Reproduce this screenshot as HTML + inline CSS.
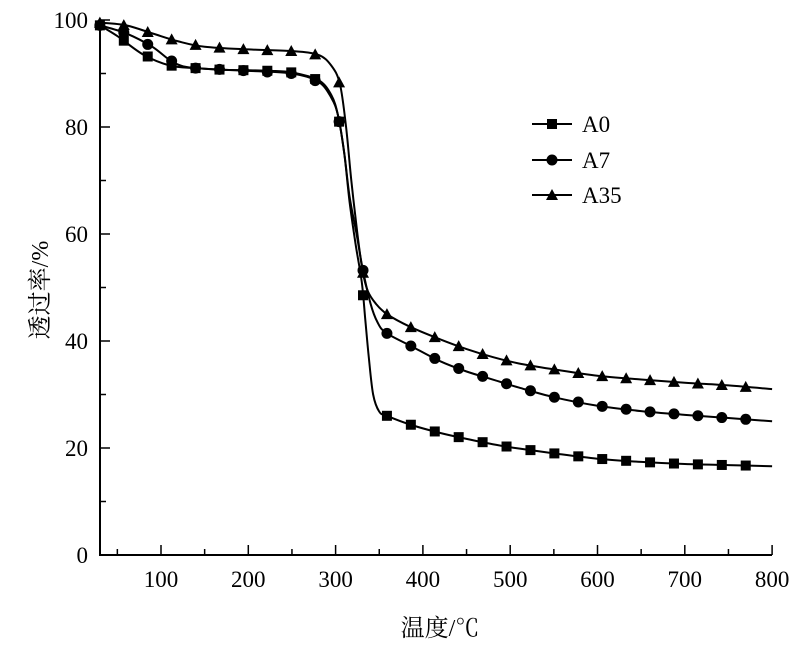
<!DOCTYPE html>
<html><head><meta charset="utf-8"><style>
html,body{margin:0;padding:0;background:#fff;}
svg{display:block;}
text{font-family:"Liberation Serif","Noto Serif CJK SC",serif;fill:#000;}
</style></head><body>
<svg id="s" width="800" height="645" viewBox="0 0 800 645" xmlns="http://www.w3.org/2000/svg">
<g id="axes" stroke="#000" stroke-width="2" fill="none">
<path d="M100,20 V555 H772"/>
</g>
<g id="ticks" stroke="#000" stroke-width="1.5"></g>
<g id="labels" font-size="23"></g>
<g id="series"></g>
<g font-size="23">
<line x1="532" y1="124" x2="572" y2="124" stroke="#000" stroke-width="2"/>
<rect x="547" y="119" width="10" height="10" fill="#000"/>
<text x="582" y="132">A0</text>
<line x1="532" y1="160" x2="572" y2="160" stroke="#000" stroke-width="2"/>
<circle cx="552" cy="160" r="5.5" fill="#000"/>
<text x="582" y="168">A7</text>
<line x1="532" y1="195" x2="572" y2="195" stroke="#000" stroke-width="2"/>
<polygon points="552,189 558,200 546,200" fill="#000"/>
<text x="582" y="203">A35</text>
</g>
<text x="440" y="636" font-size="24" text-anchor="middle">温度/℃</text>
<text transform="translate(48,290) rotate(-90)" font-size="24" text-anchor="middle">透过率/%</text>
</svg>
<script>
var NS="http://www.w3.org/2000/svg";
function X(v){return 161+(v-100)*0.873;}
function Y(v){return 555-v*5.35;}
function el(t,a,p){var e=document.createElementNS(NS,t);for(var k in a)e.setAttribute(k,a[k]);p.appendChild(e);return e;}
var tk=document.getElementById('ticks'),lb=document.getElementById('labels');
for(var v=50;v<=800;v+=50){var maj=v%100==0;el('line',{x1:X(v),x2:X(v),y1:555,y2:maj?545:549},tk);
 if(maj){var t=el('text',{x:X(v),y:587,'text-anchor':'middle'},lb);t.textContent=v;}}
for(var v=0;v<=100;v+=10){var maj=v%20==0;el('line',{x1:100,x2:maj?110:106,y1:Y(v),y2:Y(v)},tk);
 if(maj){var t=el('text',{x:88,y:Y(v)+8,'text-anchor':'end'},lb);t.textContent=v;}}
var D={
A0:[[30,99],[50,97],[80,93.5],[110,91.5],[140,91],[170,90.7],[200,90.6],[225,90.5],[250,90.2],[280,88.8],[295,86],[303,82],[310,75],[316,66],[323,58],[330,51],[334,44],[338,37],[343,30],[350,26.8],[359,26],[387,24.3],[420,22.8],[450,21.7],[480,20.7],[510,19.9],[550,19],[600,18],[650,17.4],[700,17],[750,16.8],[800,16.6]],
A7:[[30,99],[60,97.5],[90,95],[115,92],[140,91],[200,90.5],[250,90],[280,88.5],[295,85.5],[303,82],[310,75],[316,67],[324,60],[331,53.5],[340,47],[348,43.5],[358,41.5],[387,39],[420,36.2],[450,34.3],[480,32.8],[510,31.3],[550,29.5],[600,27.9],[650,26.9],[700,26.2],[750,25.6],[800,25]],
A35:[[30,99.5],[60,99],[90,97.5],[120,96],[150,95],[200,94.5],[250,94.2],[280,93.5],[295,91.5],[305,88],[312,80],[318,70],[325,60],[331,53],[337,49.3],[346,47],[359,45],[386,42.6],[420,40.3],[450,38.5],[480,37],[510,35.8],[550,34.7],[600,33.5],[650,32.8],[700,32.2],[750,31.7],[800,31]]};
function interp(p,x){for(var i=1;i<p.length;i++){if(x<=p[i][0]){var a=p[i-1],b=p[i];return a[1]+(b[1]-a[1])*(x-a[0])/(b[0]-a[0]);}}return p[p.length-1][1];}
var sg=document.getElementById('series');
function path(p){var pts=p.map(function(q){return [X(q[0]),Y(q[1])];});var d='M'+pts[0][0]+','+pts[0][1];
 for(var i=0;i<pts.length-1;i++){var p0=pts[Math.max(0,i-1)],p1=pts[i],p2=pts[i+1],p3=pts[Math.min(pts.length-1,i+2)];
 d+=' C'+(p1[0]+(p2[0]-p0[0])/6)+','+(p1[1]+(p2[1]-p0[1])/6)+' '+(p2[0]-(p3[0]-p1[0])/6)+','+(p2[1]-(p3[1]-p1[1])/6)+' '+p2[0]+','+p2[1];}
 return d;}
var types={A0:'s',A7:'c',A35:'t'};
for(var k in D){el('path',{d:path(D[k]),fill:'none',stroke:'#000','stroke-width':2},sg);
 for(var i=0;i<=27;i++){var v=30+i*27.4;var x=X(v),y=Y(interp(D[k],v));
  if(types[k]=='s')el('rect',{x:x-5,y:y-5,width:10,height:10,fill:'#000'},sg);
  else if(types[k]=='c')el('circle',{cx:x,cy:y,r:5.5,fill:'#000'},sg);
  else el('polygon',{points:x+','+(y-6)+' '+(x+6)+','+(y+5)+' '+(x-6)+','+(y+5),fill:'#000'},sg);}}
</script>
</body></html>
